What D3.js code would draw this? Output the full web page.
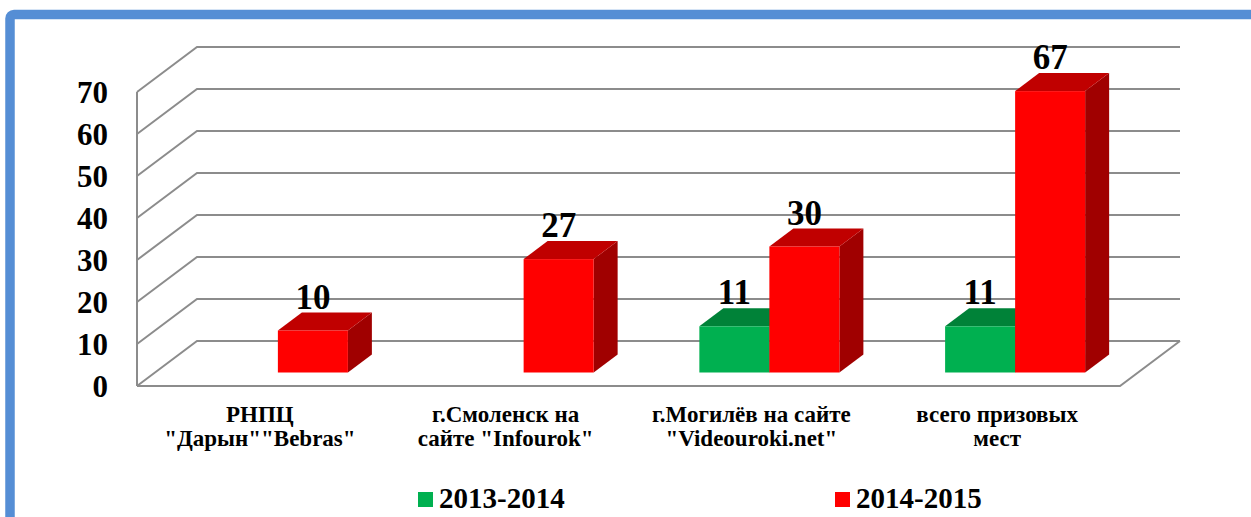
<!DOCTYPE html>
<html>
<head>
<meta charset="utf-8">
<script src="https://cdn.jsdelivr.net/npm/d3@7"></script>
<style>
  html, body { margin: 0; padding: 0; background: #fff; }
  svg { display: block; }
</style>
</head>
<body>
<svg id="chart" width="1251" height="517"></svg>
<script>
// Categories (two text lines each) and values per school year
const categories = [
  ["РНПЦ", "\"Дарын\"\"Bebras\""],
  ["г.Смоленск на", "сайте \"Infourok\""],
  ["г.Могилёв на сайте", "\"Videouroki.net\""],
  ["всего призовых", "мест"]
];
const seriesNames = ["2013-2014", "2014-2015"];
const values2013 = [null, null, 11, 11];
const values2014 = [10, 27, 30, 67];
const yTicks = [0, 10, 20, 30, 40, 50, 60, 70];

const seriesValues = [values2013, values2014];
const faceColors = [
  { front: "#00B050", top: "#008238", side: "#006B2E" },
  { front: "#FF0000", top: "#C00000", side: "#A00000" }
];

const FONT = "'Liberation Serif', 'Times New Roman', serif";

const svg = d3.select("#chart");

// Frame around the slide area
svg.append("rect")
  .attr("x", 10).attr("y", 14.5)
  .attr("width", 1400).attr("height", 700)
  .attr("rx", 4)
  .attr("fill", "none")
  .attr("stroke", "#558ED5")
  .attr("stroke-width", 9.5);

// Plot geometry: front plane and depth of the 3-D box
const x0 = 137, x1 = 1120;
const depthX = 60, depthY = -45;
const y = d3.scaleLinear().domain([0, 70]).range([386, 92]);
const x = d3.scaleBand().domain(d3.range(categories.length)).range([x0, x1]).padding(0);
const xs = d3.scaleBand().domain(d3.range(seriesNames.length))
  .range([0, x.bandwidth()]).paddingInner(0).paddingOuter(0.755);

const gridColor = "#8C8C8C";
const grid = svg.append("g").attr("fill", "none").attr("stroke", gridColor).attr("stroke-width", 2);

// Left side wall edge
grid.append("line")
  .attr("x1", x0).attr("x2", x0)
  .attr("y1", y(70)).attr("y2", y(0));

// Gridlines: slanted on the side wall, horizontal on the back wall
yTicks.forEach(v => {
  grid.append("path")
    .attr("d", `M${x0},${y(v)} L${x0 + depthX},${y(v) + depthY} L${x1 + depthX},${y(v) + depthY}`);
});

// Floor outline
grid.append("path")
  .attr("d", `M${x0},${y(0)} L${x1},${y(0)} L${x1 + depthX},${y(0) + depthY}`);

// Y axis tick labels
svg.append("g").selectAll("text").data(yTicks).join("text")
  .attr("x", 108).attr("y", d => y(d))
  .attr("dy", "0.35em")
  .attr("text-anchor", "end")
  .attr("font-family", FONT).attr("font-weight", "bold")
  .attr("font-size", 31)
  .attr("fill", "#000")
  .text(d => d);

// Bars sit in the middle of the floor depth
const f0 = 0.3, f1 = 0.7;
const bdx = depthX * (f1 - f0), bdy = depthY * (f1 - f0);
const offX = depthX * f0, offY = depthY * f0;

const bars = svg.append("g");
const labels = svg.append("g");

categories.forEach((c, ci) => {
  seriesValues.forEach((vals, si) => {
    const v = vals[ci];
    if (v == null) return;
    const left = x(ci) + xs(si) + offX;
    const w = xs.bandwidth();
    const base = y(0) + offY;
    const top = y(v) + offY;
    const col = faceColors[si];
    const g = bars.append("g");
    // side face
    g.append("path")
      .attr("d", `M${left + w},${top} L${left + w + bdx},${top + bdy} L${left + w + bdx},${base + bdy} L${left + w},${base} Z`)
      .attr("fill", col.side);
    // top face
    g.append("path")
      .attr("d", `M${left},${top} L${left + bdx},${top + bdy} L${left + w + bdx},${top + bdy} L${left + w},${top} Z`)
      .attr("fill", col.top);
    // front face
    g.append("rect")
      .attr("x", left).attr("y", top)
      .attr("width", w).attr("height", base - top)
      .attr("fill", col.front);
    // value label
    labels.append("text")
      .attr("x", left + w / 2)
      .attr("y", top + bdy - 4)
      .attr("text-anchor", "middle")
      .attr("font-family", FONT).attr("font-weight", "bold")
      .attr("font-size", 35)
      .attr("fill", "#000")
      .text(v);
  });
});

// Category labels
const catG = svg.append("g");
categories.forEach((lines, ci) => {
  const t = catG.append("text")
    .attr("text-anchor", "middle")
    .attr("font-family", FONT).attr("font-weight", "bold")
    .attr("font-size", 23)
    .attr("fill", "#000");
  lines.forEach((ln, li) => {
    t.append("tspan")
      .attr("x", x(ci) + x.bandwidth() / 2)
      .attr("y", 422 + li * 24)
      .text(ln);
  });
});

// Legend
const legendX = [418, 835];
const legend = svg.append("g");
seriesNames.forEach((name, i) => {
  legend.append("rect")
    .attr("x", legendX[i]).attr("y", 492)
    .attr("width", 15).attr("height", 15)
    .attr("fill", faceColors[i].front);
  legend.append("text")
    .attr("x", legendX[i] + 21).attr("y", 508)
    .attr("font-family", FONT).attr("font-weight", "bold")
    .attr("font-size", 29)
    .attr("fill", "#000")
    .text(name);
});
</script>
</body>
</html>
